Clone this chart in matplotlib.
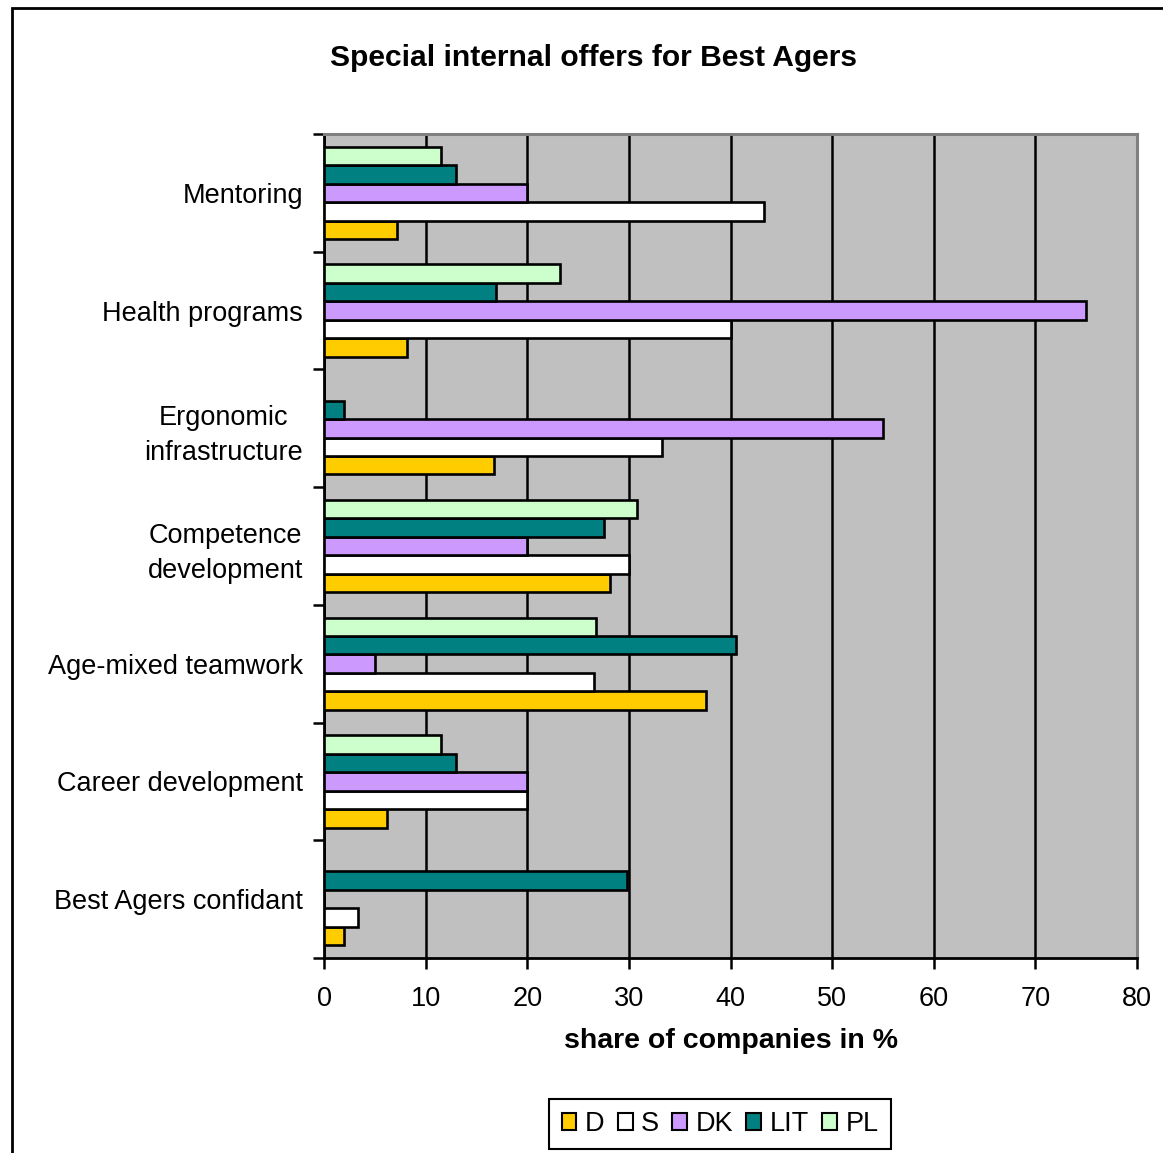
import matplotlib
matplotlib.use("Agg")
import matplotlib.pyplot as plt
import numpy as np
from matplotlib.patches import Patch, Rectangle

plt.rcParams['font.family'] = ['Liberation Sans', 'DejaVu Sans']

categories = ["Mentoring", "Health programs", "Ergonomic\ninfrastructure",
              "Competence\ndevelopment", "Age-mixed teamwork",
              "Career development", "Best Agers confidant"]
series_names = ["D", "S", "DK", "LIT", "PL"]
D = [7.2, 8.2, 16.7, 28.1, 37.6, 6.2, 2.0]
S = [43.3, 40.0, 33.3, 30.0, 26.6, 20.0, 3.3]
DK = [20.0, 75.0, 55.0, 20.0, 5.0, 20.0, 0.0]
LIT = [13.0, 16.9, 2.0, 27.6, 40.5, 13.0, 29.8]
PL = [11.5, 23.2, 0.0, 30.8, 26.8, 11.5, 0.0]
colors = ["#FFCC00", "#FFFFFF", "#CC99FF", "#008080", "#CCFFCC"]
xticks = [0, 10, 20, 30, 40, 50, 60, 70, 80]

W, H = 1163, 1153
fig = plt.figure(figsize=(W / 100, H / 100), dpi=100)
ax = fig.add_axes([324 / W, 1 - 958 / H, (1137 - 324) / W, (958 - 134) / H])
ax.set_facecolor("#C0C0C0")

n = len(categories)
ypos = np.arange(n)[::-1]  # top category highest
h = 0.157
data = [D, S, DK, LIT, PL]
offsets = [-2 * h, -h, 0, h, 2 * h]
for vals, col, off, name in zip(data, colors, offsets, series_names):
    ax.barh(ypos + off, vals, height=h, color=col, edgecolor="black",
            linewidth=1.9, label=name, zorder=3)

ax.set_xlim(0, 80)
ax.set_ylim(-0.5, n - 0.5)
ax.set_xticks(xticks)
ax.set_xticklabels([str(t) for t in xticks], fontsize=19.5)
ax.tick_params(axis='x', direction='out', length=8, width=1.8, pad=12, colors='black')
ax.xaxis.grid(True, color='black', linewidth=1.8, zorder=1)
ax.set_axisbelow(True)

ax.set_yticks(ypos)
ax.set_yticklabels(categories, fontsize=19.5, ha='right', multialignment='center',
                   linespacing=1.45)
ax.tick_params(axis='y', which='major', length=0, pad=15)
ax.set_yticks(np.arange(-0.5, n, 1.0), minor=True)
ax.tick_params(axis='y', which='minor', direction='out', length=8, width=1.8)

for s in ['left', 'bottom']:
    ax.spines[s].set_color('black')
    ax.spines[s].set_linewidth(2)
for s in ['top', 'right']:
    ax.spines[s].set_color('#808080')
    ax.spines[s].set_linewidth(2.2)

fig.text(594 / W, 1 - 58 / H, "Special internal offers for Best Agers",
         fontsize=21.6, fontweight='bold', ha='center', va='center')
fig.text(731 / W, 1 - 1041 / H, "share of companies in %",
         fontsize=20.5, fontweight='bold', ha='center', va='center')

handles = [Patch(facecolor=c, edgecolor='black', linewidth=1.5) for c in colors]
leg = fig.legend(handles, series_names, loc='center', ncol=5,
                 bbox_to_anchor=(720 / W, 1 - 1124 / H), fontsize=19.5,
                 handlelength=0.55, handleheight=0.55, handletextpad=0.3,
                 columnspacing=0.5, fancybox=False, framealpha=1,
                 edgecolor='black', borderpad=0.45)
leg.get_frame().set_linewidth(1.5)

border = Rectangle((12 / W, -0.1), 1.2, 1 - 8 / H + 0.1, transform=fig.transFigure,
                   fill=False, edgecolor='black', linewidth=2)
fig.patches.append(border)

fig.savefig("out.png", dpi=100)
